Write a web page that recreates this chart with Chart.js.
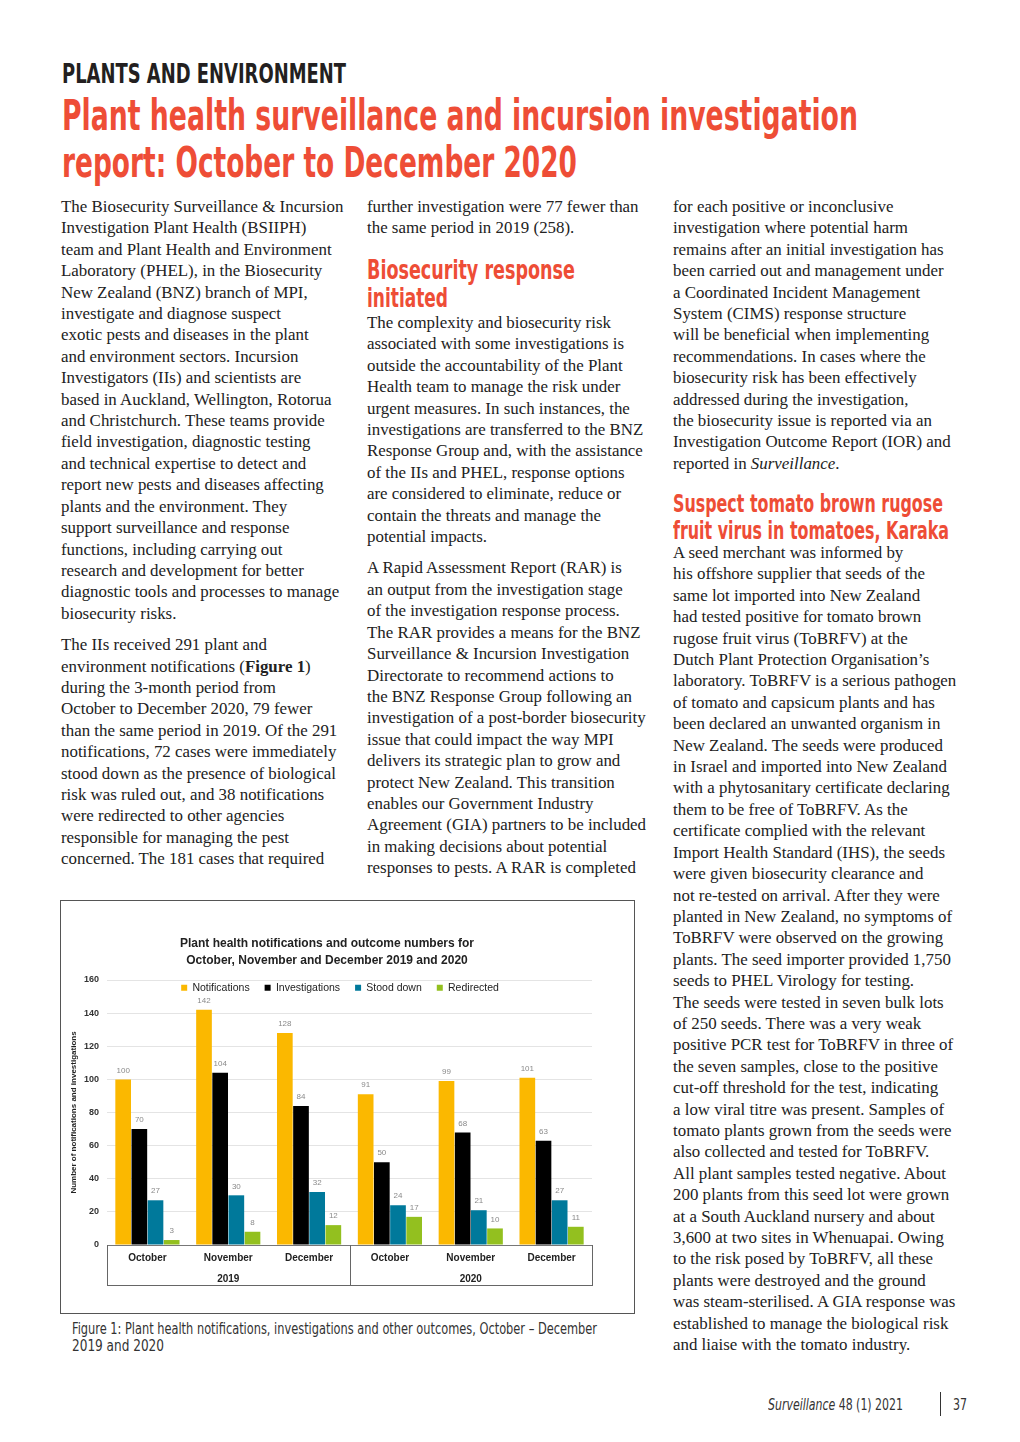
<!DOCTYPE html>
<html>
<head>
<meta charset="utf-8">
<script src="https://cdn.jsdelivr.net/npm/chart.js@4.4.1/dist/chart.umd.min.js"></script>
<style>
  body { margin: 0; background: #fff; width: 1020px; height: 1442px; position: relative; overflow: hidden; }
  .abs { position: absolute; white-space: nowrap; }
  .hd { font-family: "Liberation Sans Narrow", "DejaVu Sans Condensed", sans-serif; font-weight: bold; color: #ee4d36; transform-origin: left center; }
  .body { font-family: "Liberation Serif", serif; font-size: 16.9px; line-height: 21.4px; color: #222; }
  .body p { margin: 0 0 10px 0; }
  .cap { font-family: "Liberation Sans Narrow", "DejaVu Sans Condensed", sans-serif; font-size: 15px; line-height: 17px; color: #333; transform-origin: left center; }
</style>
</head>
<body>

<div class="abs hd" data-w="284" style="left:62px; top:58px; font-size:27px; line-height:32px; color:#231f20;">PLANTS AND ENVIRONMENT</div>
<div class="abs hd" data-w="796" style="left:62px; top:92px; font-size:43px; line-height:47px;">Plant health surveillance and incursion investigation</div>
<div class="abs hd" data-w="515" style="left:62px; top:139px; font-size:43px; line-height:47px;">report: October to December 2020</div>

<div class="abs body" style="left:61px; top:196px;">
<p>The Biosecurity Surveillance &amp; Incursion<br>Investigation Plant Health (BSIIPH)<br>team and Plant Health and Environment<br>Laboratory (PHEL), in the Biosecurity<br>New Zealand (BNZ) branch of MPI,<br>investigate and diagnose suspect<br>exotic pests and diseases in the plant<br>and environment sectors. Incursion<br>Investigators (IIs) and scientists are<br>based in Auckland, Wellington, Rotorua<br>and Christchurch. These teams provide<br>field investigation, diagnostic testing<br>and technical expertise to detect and<br>report new pests and diseases affecting<br>plants and the environment. They<br>support surveillance and response<br>functions, including carrying out<br>research and development for better<br>diagnostic tools and processes to manage<br>biosecurity risks.</p>
<p>The IIs received 291 plant and<br>environment notifications (<b>Figure 1</b>)<br>during the 3-month period from<br>October to December 2020, 79 fewer<br>than the same period in 2019. Of the 291<br>notifications, 72 cases were immediately<br>stood down as the presence of biological<br>risk was ruled out, and 38 notifications<br>were redirected to other agencies<br>responsible for managing the pest<br>concerned. The 181 cases that required</p>
</div>

<div class="abs body" style="left:367px; top:196px;">
<p>further investigation were 77 fewer than<br>the same period in 2019 (258).</p>
</div>
<div class="abs hd" data-w="208" style="left:367px; top:256px; font-size:26px; line-height:28px;">Biosecurity response</div>
<div class="abs hd" data-w="81" style="left:367px; top:284px; font-size:26px; line-height:28px;">initiated</div>
<div class="abs body" style="left:367px; top:312px;">
<p>The complexity and biosecurity risk<br>associated with some investigations is<br>outside the accountability of the Plant<br>Health team to manage the risk under<br>urgent measures. In such instances, the<br>investigations are transferred to the BNZ<br>Response Group and, with the assistance<br>of the IIs and PHEL, response options<br>are considered to eliminate, reduce or<br>contain the threats and manage the<br>potential impacts.</p>
<p>A Rapid Assessment Report (RAR) is<br>an output from the investigation stage<br>of the investigation response process.<br>The RAR provides a means for the BNZ<br>Surveillance &amp; Incursion Investigation<br>Directorate to recommend actions to<br>the BNZ Response Group following an<br>investigation of a post-border biosecurity<br>issue that could impact the way MPI<br>delivers its strategic plan to grow and<br>protect New Zealand. This transition<br>enables our Government Industry<br>Agreement (GIA) partners to be included<br>in making decisions about potential<br>responses to pests. A RAR is completed</p>
</div>

<div class="abs body" style="left:673px; top:196px;">
<p>for each positive or inconclusive<br>investigation where potential harm<br>remains after an initial investigation has<br>been carried out and management under<br>a Coordinated Incident Management<br>System (CIMS) response structure<br>will be beneficial when implementing<br>recommendations. In cases where the<br>biosecurity risk has been effectively<br>addressed during the investigation,<br>the biosecurity issue is reported via an<br>Investigation Outcome Report (IOR) and<br>reported in <i>Surveillance</i>.</p>
</div>
<div class="abs hd" data-w="270" style="left:673px; top:490px; font-size:25px; line-height:27px;">Suspect tomato brown rugose</div>
<div class="abs hd" data-w="276" style="left:673px; top:517px; font-size:25px; line-height:27px;">fruit virus in tomatoes, Karaka</div>
<div class="abs body" style="left:673px; top:542px;">
<p>A seed merchant was informed by<br>his offshore supplier that seeds of the<br>same lot imported into New Zealand<br>had tested positive for tomato brown<br>rugose fruit virus (ToBRFV) at the<br>Dutch Plant Protection Organisation’s<br>laboratory. ToBRFV is a serious pathogen<br>of tomato and capsicum plants and has<br>been declared an unwanted organism in<br>New Zealand. The seeds were produced<br>in Israel and imported into New Zealand<br>with a phytosanitary certificate declaring<br>them to be free of ToBRFV. As the<br>certificate complied with the relevant<br>Import Health Standard (IHS), the seeds<br>were given biosecurity clearance and<br>not re-tested on arrival. After they were<br>planted in New Zealand, no symptoms of<br>ToBRFV were observed on the growing<br>plants. The seed importer provided 1,750<br>seeds to PHEL Virology for testing.<br>The seeds were tested in seven bulk lots<br>of 250 seeds. There was a very weak<br>positive PCR test for ToBRFV in three of<br>the seven samples, close to the positive<br>cut-off threshold for the test, indicating<br>a low viral titre was present. Samples of<br>tomato plants grown from the seeds were<br>also collected and tested for ToBRFV.<br>All plant samples tested negative. About<br>200 plants from this seed lot were grown<br>at a South Auckland nursery and about<br>3,600 at two sites in Whenuapai. Owing<br>to the risk posed by ToBRFV, all these<br>plants were destroyed and the ground<br>was steam-sterilised. A GIA response was<br>established to manage the biological risk<br>and liaise with the tomato industry.</p>
</div>

<div class="abs" style="left:60px; top:900px; width:573px; height:412px; border:1px solid #555;">
  <div style="position:absolute; left:1px; top:0; width:532px; height:412px;">
    <canvas id="chart"></canvas>
  </div>
</div>

<div class="abs cap" data-w="525" style="left:72px; top:1321px;">Figure 1: Plant health notifications, investigations and other outcomes, October – December</div>
<div class="abs cap" data-w="92" style="left:72px; top:1338px;">2019 and 2020</div>

<div class="abs cap" data-w="135" style="left:768px; top:1396px; font-size:16px;"><i>Surveillance</i> 48 (1) 2021</div>
<div class="abs" style="left:940px; top:1392px; width:1px; height:24px; background:#333;"></div>
<div class="abs cap" data-w="14" style="left:953px; top:1396px; font-size:16px;">37</div>

<script>
// figure values
const months = ['October', 'November', 'December', 'October', 'November', 'December'];
const years = ['2019', '2020'];
const notifications = [100, 142, 128, 91, 99, 101];
const investigations = [70, 104, 84, 50, 68, 63];
const stoodDown = [27, 30, 32, 24, 21, 27];
const redirected = [3, 8, 12, 17, 10, 11];

// squeeze the condensed headings to the printed width
document.querySelectorAll('[data-w]').forEach(function (el) {
  const w = el.getBoundingClientRect().width;
  el.style.transform = 'scaleX(' + (parseFloat(el.dataset.w) / w) + ')';
});

const chartFont = '"Liberation Sans", Arial, sans-serif';

// little grey numbers on top of the bars
const barValues = {
  id: 'barValues',
  afterDatasetsDraw(chart) {
    const ctx = chart.ctx;
    ctx.save();
    ctx.font = '8px ' + chartFont;
    ctx.fillStyle = '#8a8a8a';
    ctx.textAlign = 'center';
    ctx.textBaseline = 'bottom';
    chart.data.datasets.forEach(function (ds, i) {
      chart.getDatasetMeta(i).data.forEach(function (bar, j) {
        ctx.fillText(ds.data[j], bar.x, bar.y - 5);
      });
    });
    ctx.restore();
  }
};

// box round the month / year labels
const yearBox = {
  id: 'yearBox',
  afterDraw(chart) {
    const x = chart.scales.x, x2 = chart.scales.x2, ctx = chart.ctx;
    const top = chart.chartArea.bottom, bottom = x2.bottom;
    const mid = (x.getPixelForTick(2) + x.getPixelForTick(3)) / 2;
    ctx.save();
    ctx.strokeStyle = '#666';
    ctx.lineWidth = 1;
    ctx.beginPath();
    [chart.chartArea.left, mid, chart.chartArea.right].forEach(function (px) {
      ctx.moveTo(Math.round(px) + 0.5, top);
      ctx.lineTo(Math.round(px) + 0.5, bottom);
    });
    ctx.moveTo(chart.chartArea.left, bottom - 0.5);
    ctx.lineTo(chart.chartArea.right + 1, bottom - 0.5);
    ctx.stroke();
    ctx.restore();
  }
};

// legend is drawn down inside the plot, under the 160 line
const legendDrop = {
  id: 'legendDrop',
  afterLayout(chart) {
    const lg = chart.legend;
    lg.top += 23; lg.bottom += 23;
    lg.left += 13; lg.right += 13;
  }
};

function init() {
  new Chart(document.getElementById('chart'), {
    type: 'bar',
    data: {
      labels: months,
      datasets: [
        { label: 'Notifications', data: notifications, backgroundColor: '#fbb800' },
        { label: 'Investigations', data: investigations, backgroundColor: '#000000' },
        { label: 'Stood down', data: stoodDown, backgroundColor: '#00799b' },
        { label: 'Redirected', data: redirected, backgroundColor: '#93c01f' }
      ]
    },
    options: {
      responsive: true,
      maintainAspectRatio: false,
      animation: false,
      datasets: { bar: { categoryPercentage: 0.8, barPercentage: 0.97 } },
      layout: { padding: { left: 0, right: 2, top: 0, bottom: 27 } },
      plugins: {
        title: {
          display: true,
          text: ['Plant health notifications and outcome numbers for', 'October, November and December 2019 and 2020'],
          color: '#222',
          font: { family: chartFont, size: 12, weight: 'bold', lineHeight: 1.4 },
          padding: { top: 34.5, bottom: -24.6 }
        },
        legend: {
          position: 'top',
          labels: {
            color: '#222',
            font: { family: chartFont, size: 10.5 },
            boxWidth: 6, boxHeight: 6, padding: 15
          }
        },
        tooltip: { enabled: false }
      },
      scales: {
        x: {
          grid: { display: false, drawTicks: false },
          border: { display: true, color: '#777' },
          ticks: { color: '#222', font: { family: chartFont, size: 10, weight: 'bold' }, padding: 7 },
          afterFit(s) { s.height = 24; }
        },
        x2: {
          type: 'category',
          labels: years,
          position: 'bottom',
          offset: true,
          grid: { display: false, drawTicks: false },
          border: { display: false },
          ticks: { color: '#222', font: { family: chartFont, size: 10, weight: 'bold' }, padding: 4 },
          afterFit(s) { s.height = 17; }
        },
        y: {
          min: 0, max: 160,
          ticks: { stepSize: 20, color: '#333', font: { family: chartFont, size: 9, weight: 'bold' }, padding: 8 },
          grid: { color: '#e4e4e4', drawTicks: false },
          border: { display: false },
          title: { display: true, text: 'Number of notifications and investigations', color: '#222', font: { family: chartFont, size: 8, weight: 'bold' }, padding: { top: 7, bottom: 0 } },
          afterFit(s) { s.width = 45; }
        }
      }
    },
    plugins: [barValues, yearBox, legendDrop]
  });
}

init();
</script>
</body>
</html>
